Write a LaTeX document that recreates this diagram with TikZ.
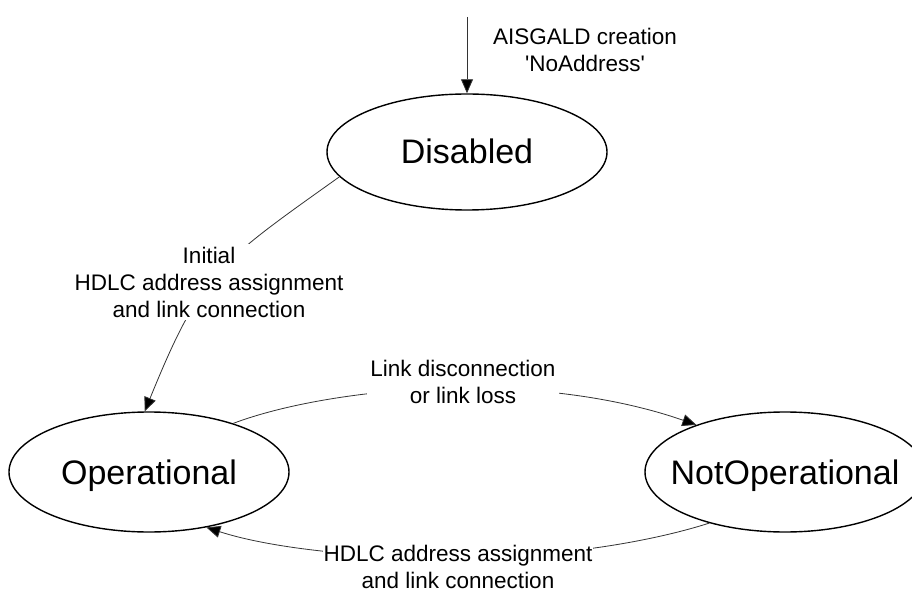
\documentclass[tikz,border=0pt]{standalone}
\usepackage{fontspec}
\setmainfont{Liberation Sans}
\usetikzlibrary{shapes.geometric,arrows.meta}
\begin{document}
\begin{tikzpicture}[x=1pt,y=-1pt,
  state/.style={ellipse,draw,line width=1.4pt,minimum width=280pt,minimum height=120pt,
    inner sep=0pt,text height=24pt,text depth=0pt,font=\fontsize{34}{40}\selectfont},
  edge/.style={line width=0.8pt,draw=black!80,-{Triangle[length=14pt,width=12pt,fill=black]}},
  lbl/.style={fill=white,align=center,inner sep=3pt,font=\fontsize{22.5}{27}\selectfont}]
\useasboundingbox (0,0) rectangle (912,593);
\node[state,minimum height=116pt] (dis) at (467,152) {Disabled};
\node[state] (op) at (149,472) {Operational};
\node[state,inner xsep=-20pt] (nop) at (785,472) {NotOperational};
\coordinate (top) at (467,17);
\draw[edge] (top) -- (dis);
\draw[edge] (dis.191) .. controls (217,264) and (201,273) .. (op.94);
\draw[edge] (op.30) .. controls (290,402) and (380,388) .. (465,388)
   .. controls (550,388) and (625,400) .. (nop.152);
\draw[edge] (nop.214) .. controls (650,542) and (560,557) .. (458,558)
   .. controls (360,558) and (270,548) .. (op.316);
\node[lbl,fill=none,anchor=base] (l0) at (585,72) {AISGALD creation\\\textquotesingle NoAddress\textquotesingle};
\node[lbl,anchor=base] (l1) at (209,317) {Initial\\HDLC address assignment\\and link connection};
\node[lbl,anchor=base] (l2) at (463,403) {Link disconnection\\or link loss};
\node[lbl,anchor=base,inner sep=1pt] (l3) at (458,588) {HDLC address assignment\\and link connection};
\end{tikzpicture}
\end{document}
